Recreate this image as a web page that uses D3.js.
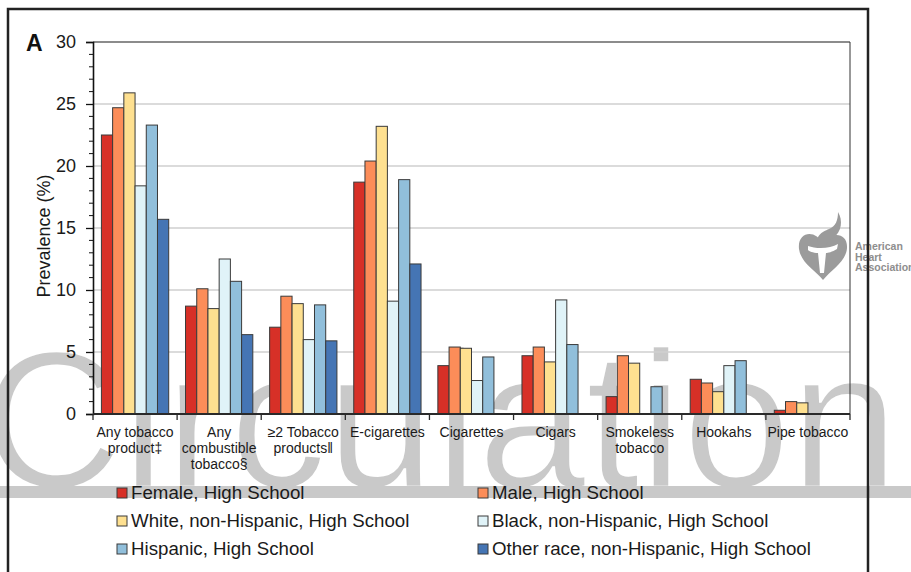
<!DOCTYPE html>
<html>
<head>
<meta charset="utf-8">
<script src="https://cdn.jsdelivr.net/npm/d3@7"></script>
<style>
  html, body { margin: 0; padding: 0; background: #fff; }
  svg { display: block; font-family: "Liberation Sans", Arial, Helvetica, sans-serif; }
</style>
</head>
<body>
<svg id="chart" width="911" height="572"></svg>
<script>
// Tobacco product use among high school students, by sex and race/ethnicity
const categories = [
  ["Any tobacco", "product‡"],
  ["Any", "combustible", "tobacco§"],
  ["≥2 Tobacco", "products‖"],
  ["E-cigarettes"],
  ["Cigarettes"],
  ["Cigars"],
  ["Smokeless", "tobacco"],
  ["Hookahs"],
  ["Pipe tobacco"]
];

const seriesNames = [
  "Female, High School",
  "Male, High School",
  "White, non-Hispanic, High School",
  "Black, non-Hispanic, High School",
  "Hispanic, High School",
  "Other race, non-Hispanic, High School"
];

const female   = [22.5, 8.7, 7.0, 18.7, 3.9, 4.7, 1.4, 2.8, 0.3];
const male     = [24.7, 10.1, 9.5, 20.4, 5.4, 5.4, 4.7, 2.5, 1.0];
const white    = [25.9, 8.5, 8.9, 23.2, 5.3, 4.2, 4.1, 1.8, 0.9];
const black    = [18.4, 12.5, 6.0, 9.1, 2.7, 9.2, null, 3.9, null];
const hispanic = [23.3, 10.7, 8.8, 18.9, 4.6, 5.6, 2.2, 4.3, null];
const other    = [15.7, 6.4, 5.9, 12.1, null, null, null, null, null];

const seriesValues = [female, male, white, black, hispanic, other];
const seriesColors = ["#d73027", "#fc8d59", "#fee090", "#e0f3f8", "#91bfdb", "#4575b4"];

const yTicks = [0, 5, 10, 15, 20, 25, 30];

const svg = d3.select("#chart");
const W = 911, H = 572;
const plot = { left: 93, right: 850, top: 42, bottom: 414 };

// ---- journal watermark, behind everything ----
const wm = svg.append("g").attr("class", "watermark");
wm.append("text")
  .attr("x", -18).attr("y", 487)
  .attr("font-size", 194)
  .attr("fill", "#c9c9c9")
  .attr("stroke", "#fff").attr("stroke-width", 2.5)
  .attr("font-family", "'Liberation Sans', Arial, sans-serif")
  .text("Circulation");
wm.append("rect")
  .attr("x", 0).attr("y", 486).attr("width", W).attr("height", 12)
  .attr("fill", "#c9c9c9");

// ---- scales ----
const keys = categories.map((c, i) => i);
const x0 = d3.scaleBand().domain(keys).range([plot.left, plot.right])
  .paddingInner(0.2).paddingOuter(0.1);
const x1 = d3.scaleBand().domain(d3.range(seriesNames.length)).range([0, x0.bandwidth()]);
const y = d3.scaleLinear().domain([0, 30]).range([plot.bottom, plot.top]);

// gridlines
svg.append("g").selectAll("line")
  .data(yTicks.filter(t => t > 0 && t < 30))
  .join("line")
  .attr("x1", plot.left).attr("x2", plot.right)
  .attr("y1", d => y(d)).attr("y2", d => y(d))
  .attr("stroke", "#cfcfcf").attr("stroke-width", 1.5);

// top and right border of plot area
svg.append("line")
  .attr("x1", plot.left).attr("x2", plot.right)
  .attr("y1", y(30)).attr("y2", y(30))
  .attr("stroke", "#1a1a1a").attr("stroke-width", 1.2);
svg.append("line")
  .attr("x1", plot.right).attr("x2", plot.right)
  .attr("y1", y(30)).attr("y2", plot.bottom)
  .attr("stroke", "#333").attr("stroke-width", 1);

// ---- AHA logo ----
const logo = svg.append("g").attr("class", "logo");
logo.append("path")
  .attr("d", "M823,244 C816,229 797,231 799,249 C801,263 815,270 823,280 C831,270 846,262 847,248 C848,232 830,231 823,244 Z")
  .attr("fill", "#9b9b9b");
logo.append("path")
  .attr("d", "M808,246 C816,249 830,249 838,244 L837,249 C832,252 828,253 826,253 L824,273 L820,273 L818,253 C813,253 809,251 808,250 Z")
  .attr("fill", "#fff");
logo.append("path")
  .attr("d", "M819,246 C814,236 822,232 829,229 C836,226 838,220 838,212 C843,220 842,232 833,238 C828,241 826,243 826,246 Z")
  .attr("fill", "#9b9b9b");
logo.selectAll("text")
  .data(["American", "Heart", "Association"])
  .join("text")
  .attr("x", 855).attr("y", (d, i) => 250 + i * 10.5)
  .attr("font-size", 10.5).attr("font-weight", "bold")
  .attr("fill", "#8e8e8e")
  .text(d => d);

// ---- bars ----
const groups = svg.append("g").selectAll("g")
  .data(keys)
  .join("g")
  .attr("transform", d => `translate(${x0(d)},0)`);

groups.selectAll("rect")
  .data(ci => seriesValues.map((vals, si) => ({ si, v: vals[ci] })).filter(d => d.v != null))
  .join("rect")
  .attr("x", d => x1(d.si))
  .attr("width", x1.bandwidth())
  .attr("y", d => y(d.v))
  .attr("height", d => y(0) - y(d.v))
  .attr("fill", d => seriesColors[d.si])
  .attr("stroke", "#3a3a3a")
  .attr("stroke-width", 1);

// ---- y axis ----
const yAxis = svg.append("g")
  .attr("transform", `translate(${plot.left},0)`)
  .call(d3.axisLeft(y).tickValues(yTicks).tickSize(7).tickPadding(10).tickFormat(d3.format("d")));
yAxis.select(".domain").attr("stroke", "#111").attr("stroke-width", 1.6);
yAxis.selectAll(".tick line").attr("stroke", "#111").attr("stroke-width", 1.3);
yAxis.selectAll(".tick text")
  .attr("font-size", 18).attr("fill", "#1a1a1a")
  .attr("font-family", "'Liberation Sans', Arial, sans-serif");

// minor ticks every 1 unit
svg.append("g").selectAll("line")
  .data(d3.range(0, 31).filter(v => v % 5 !== 0))
  .join("line")
  .attr("x1", plot.left - 4).attr("x2", plot.left)
  .attr("y1", d => y(d)).attr("y2", d => y(d))
  .attr("stroke", "#111").attr("stroke-width", 1);

// ---- x axis ----
const bottomAxis = svg.append("g");
bottomAxis.append("line")
  .attr("x1", plot.left).attr("x2", plot.right)
  .attr("y1", plot.bottom).attr("y2", plot.bottom)
  .attr("stroke", "#2a2a2a").attr("stroke-width", 2);
const step = x0.step();
bottomAxis.selectAll("line.tk")
  .data(d3.range(0, categories.length + 1))
  .join("line")
  .attr("class", "tk")
  .attr("x1", i => plot.left + i * step).attr("x2", i => plot.left + i * step)
  .attr("y1", plot.bottom).attr("y2", plot.bottom + 6)
  .attr("stroke", "#2a2a2a").attr("stroke-width", 1.3);

const catLabels = svg.append("g").selectAll("text")
  .data(keys)
  .join("text")
  .attr("text-anchor", "middle")
  .attr("font-size", 14)
  .attr("fill", "#1a1a1a")
  .attr("x", d => x0(d) + x0.bandwidth() / 2)
  .attr("y", 437);
catLabels.selectAll("tspan")
  .data(d => categories[d].map(t => ({ t, cx: x0(d) + x0.bandwidth() / 2 })))
  .join("tspan")
  .attr("x", d => d.cx)
  .attr("dy", (d, i) => i === 0 ? 0 : 16)
  .text(d => d.t);

// y axis title
svg.append("text")
  .attr("transform", "translate(50,236) rotate(-90)")
  .attr("text-anchor", "middle")
  .attr("font-size", 18)
  .attr("fill", "#1a1a1a")
  .text("Prevalence (%)");

// panel letter
svg.append("text")
  .attr("x", 26).attr("y", 51)
  .attr("font-size", 23).attr("font-weight", "bold")
  .attr("fill", "#111")
  .text("A");

// ---- legend ----
const legend = svg.append("g").selectAll("g")
  .data(seriesNames)
  .join("g")
  .attr("transform", (d, i) => `translate(${i % 2 === 0 ? 117 : 478},${488 + Math.floor(i / 2) * 28})`);
legend.append("rect")
  .attr("width", 10).attr("height", 10)
  .attr("fill", (d, i) => seriesColors[i])
  .attr("stroke", "#3a3a3a").attr("stroke-width", 1);
legend.append("text")
  .attr("x", 14).attr("y", 11)
  .attr("font-size", 18.7)
  .attr("fill", "#1a1a1a")
  .text(d => d);

// ---- outer frame ----
svg.append("path")
  .attr("d", `M8,${H + 2} L8,9 L868,9 L868,${H + 2}`)
  .attr("fill", "none")
  .attr("stroke", "#222")
  .attr("stroke-width", 2.5);
</script>
</body>
</html>
